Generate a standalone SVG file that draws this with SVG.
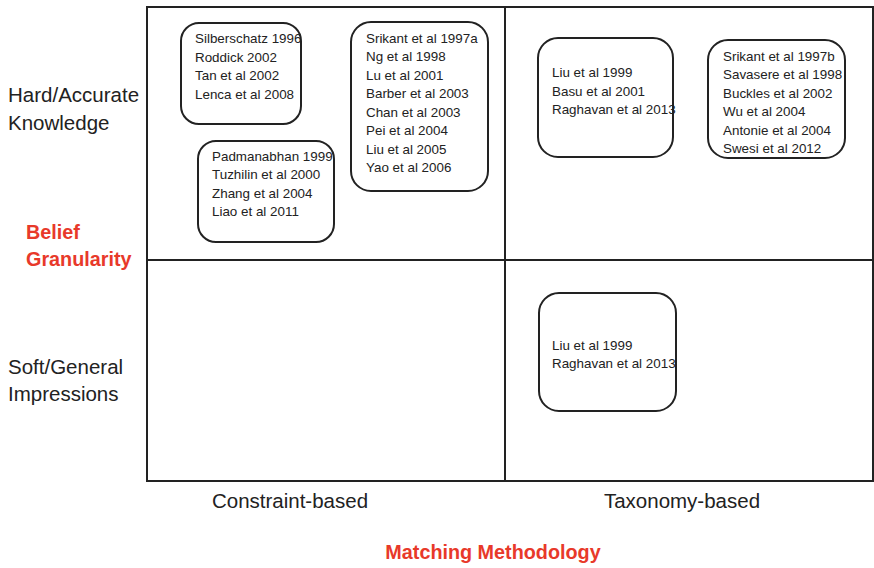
<svg xmlns="http://www.w3.org/2000/svg" width="874" height="568" viewBox="0 0 874 568">
<style>
.grid{fill:none;stroke:#222;stroke-width:2}
.box{fill:#fff;stroke:#222;stroke-width:2}
.t{font-family:"Liberation Sans",Arial,sans-serif;font-size:13.4px;fill:#222}
.ax{font-family:"Liberation Sans",Arial,sans-serif;font-size:20.5px;fill:#222}
.red{font-family:"Liberation Sans",Arial,sans-serif;font-size:19.8px;font-weight:bold;fill:#e8392a}
</style>
<rect width="874" height="568" fill="#fff"/>
<g id="grid">
<rect class="grid" x="147" y="7" width="726" height="474"/>
<line class="grid" x1="505" y1="7" x2="505" y2="481"/>
<line class="grid" x1="147" y1="260" x2="873" y2="260"/>
</g>
<g id="axis-labels">
<text class="ax" x="8" y="102">Hard/Accurate</text>
<text class="ax" x="8" y="130">Knowledge</text>
<text class="red" x="26" y="239">Belief</text>
<text class="red" x="26" y="266">Granularity</text>
<text class="ax" x="8" y="374">Soft/General</text>
<text class="ax" x="8" y="401">Impressions</text>
<text class="ax" x="290" y="508" text-anchor="middle">Constraint-based</text>
<text class="ax" x="682" y="508" text-anchor="middle">Taxonomy-based</text>
<text class="red" x="493" y="559" text-anchor="middle">Matching Methodology</text>
</g>
<g id="box1">
<rect class="box" x="181" y="23" width="120" height="101" rx="18"/>
<text class="t" x="195" y="43">Silberschatz 1996</text>
<text class="t" x="195" y="62">Roddick 2002</text>
<text class="t" x="195" y="80">Tan et al 2002</text>
<text class="t" x="195" y="99">Lenca et al 2008</text>
</g>
<g id="box2">
<rect class="box" x="198" y="141" width="136" height="101" rx="18"/>
<text class="t" x="212" y="161">Padmanabhan 1999</text>
<text class="t" x="212" y="179">Tuzhilin et al 2000</text>
<text class="t" x="212" y="198">Zhang et al 2004</text>
<text class="t" x="212" y="216">Liao et al 2011</text>
</g>
<g id="box3">
<rect class="box" x="351" y="22" width="137" height="169" rx="20"/>
<text class="t" x="366" y="43">Srikant et al 1997a</text>
<text class="t" x="366" y="61">Ng et al 1998</text>
<text class="t" x="366" y="80">Lu et al 2001</text>
<text class="t" x="366" y="98">Barber et al 2003</text>
<text class="t" x="366" y="117">Chan et al 2003</text>
<text class="t" x="366" y="135">Pei et al 2004</text>
<text class="t" x="366" y="154">Liu et al 2005</text>
<text class="t" x="366" y="172">Yao et al 2006</text>
</g>
<g id="box4">
<rect class="box" x="538" y="38" width="135" height="119" rx="20"/>
<text class="t" x="552" y="77">Liu et al 1999</text>
<text class="t" x="552" y="96">Basu et al 2001</text>
<text class="t" x="552" y="114">Raghavan et al 2013</text>
</g>
<g id="box5">
<rect class="box" x="708" y="40" width="137" height="118" rx="20"/>
<text class="t" x="723" y="61">Srikant et al 1997b</text>
<text class="t" x="723" y="79">Savasere et al 1998</text>
<text class="t" x="723" y="98">Buckles et al 2002</text>
<text class="t" x="723" y="116">Wu et al 2004</text>
<text class="t" x="723" y="135">Antonie et al 2004</text>
<text class="t" x="723" y="153">Swesi et al 2012</text>
</g>
<g id="box6">
<rect class="box" x="539" y="293" width="137" height="118" rx="20"/>
<text class="t" x="552" y="350">Liu et al 1999</text>
<text class="t" x="552" y="368">Raghavan et al 2013</text>
</g>
</svg>
